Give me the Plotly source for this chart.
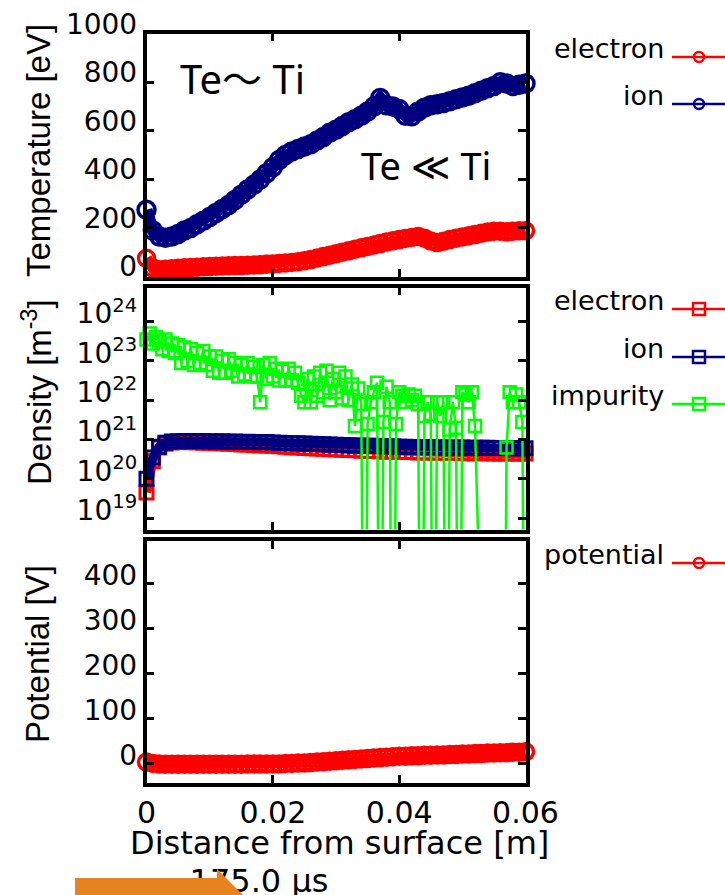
import plotly.graph_objects as go

W, H = 725, 895

# ---------------------------------------------------------------- data
# distance from the surface [m]
distance = [0.000, 0.001, 0.002, 0.003, 0.004, 0.005, 0.006, 0.007, 0.008, 0.009,
            0.010, 0.011, 0.012, 0.013, 0.014, 0.015, 0.016, 0.017, 0.018, 0.019,
            0.020, 0.021, 0.022, 0.023, 0.024, 0.025, 0.026, 0.027, 0.028, 0.029,
            0.030, 0.031, 0.032, 0.033, 0.034, 0.035, 0.036, 0.037, 0.038, 0.039,
            0.040, 0.041, 0.042, 0.043, 0.044, 0.045, 0.046, 0.047, 0.048, 0.049,
            0.050, 0.051, 0.052, 0.053, 0.054, 0.055, 0.056, 0.057, 0.058, 0.059,
            0.060]

distance_fine = [0.0000, 0.0005, 0.0010, 0.0015, 0.0020, 0.0025, 0.0030, 0.0035, 0.0040, 0.0045,
                 0.0050, 0.0055, 0.0060, 0.0065, 0.0070, 0.0075, 0.0080, 0.0085, 0.0090, 0.0095,
                 0.0100, 0.0105, 0.0110, 0.0115, 0.0120, 0.0125, 0.0130, 0.0135, 0.0140, 0.0145,
                 0.0150, 0.0155, 0.0160, 0.0165, 0.0170, 0.0175, 0.0180, 0.0185, 0.0190, 0.0195,
                 0.0200, 0.0205, 0.0210, 0.0215, 0.0220, 0.0225, 0.0230, 0.0235, 0.0240, 0.0245,
                 0.0250, 0.0255, 0.0260, 0.0265, 0.0270, 0.0275, 0.0280, 0.0285, 0.0290, 0.0295,
                 0.0300, 0.0305, 0.0310, 0.0315, 0.0320, 0.0325, 0.0330, 0.0335, 0.0340, 0.0345,
                 0.0350, 0.0355, 0.0360, 0.0365, 0.0370, 0.0375, 0.0380, 0.0385, 0.0390, 0.0395,
                 0.0400, 0.0405, 0.0410, 0.0415, 0.0420, 0.0425, 0.0430, 0.0435, 0.0440, 0.0445,
                 0.0450, 0.0455, 0.0460, 0.0465, 0.0470, 0.0475, 0.0480, 0.0485, 0.0490, 0.0495,
                 0.0500, 0.0505, 0.0510, 0.0515, 0.0520, 0.0525, 0.0530, 0.0535, 0.0540, 0.0545,
                 0.0550, 0.0555, 0.0560, 0.0565, 0.0570, 0.0575, 0.0580, 0.0585, 0.0590, 0.0595,
                 0.0600]

# temperatures [eV]
temp_electron = [75, 35, 28, 30, 32, 34, 36, 37, 38, 40,
                 41, 42, 43, 44, 45, 45, 46, 47, 48, 50,
                 52, 54, 56, 58, 61, 65, 70, 76, 82, 88,
                 94, 100, 106, 112, 118, 124, 130, 136, 142, 147,
                 152, 157, 161, 165, 158, 146, 140, 145, 152, 158,
                 163, 168, 173, 178, 183, 186, 186, 184, 186, 188,
                 188]
temp_ion = [275, 190, 165, 160, 165, 175, 190, 200, 215, 230,
            245, 262, 278, 295, 315, 337, 358, 378, 400, 425,
            450, 480, 500, 515, 525, 535, 545, 560, 575, 592,
            605, 620, 635, 648, 662, 680, 700, 735, 705, 700,
            690, 662, 660, 680, 695, 705, 710, 715, 722, 730,
            737, 745, 755, 765, 775, 785, 800, 795, 785, 790,
            795]

# densities [m^-3]
dens_electron = [4.5e19, 2.8e20, 6.3e20, 7.8e20, 8.4e20, 8.6e20, 8.6e20, 8.5e20, 8.5e20, 8.3e20,
                 8.3e20, 8.1e20, 8.0e20, 7.8e20, 7.8e20, 7.5e20, 7.5e20, 7.3e20, 7.1e20, 7.1e20,
                 6.9e20, 6.7e20, 6.6e20, 6.4e20, 6.3e20, 6.1e20, 6.0e20, 5.9e20, 5.8e20, 5.7e20,
                 5.6e20, 5.5e20, 5.4e20, 5.3e20, 5.2e20, 5.1e20, 5.1e20, 5.0e20, 4.9e20, 4.9e20,
                 4.8e20, 4.8e20, 4.8e20, 4.7e20, 4.7e20, 4.7e20, 4.6e20, 4.6e20, 4.6e20, 4.6e20,
                 4.5e20, 4.5e20, 4.5e20, 4.5e20, 4.5e20, 4.4e20, 4.4e20, 4.4e20, 4.4e20, 4.4e20,
                 4.4e20]
dens_ion = [1.0e20, 3.5e20, 6.6e20, 8.3e20, 8.9e20, 9.1e20, 9.2e20, 9.1e20, 9.2e20, 9.0e20,
            9.1e20, 8.9e20, 9.0e20, 8.8e20, 8.9e20, 8.7e20, 8.8e20, 8.6e20, 8.5e20, 8.6e20,
            8.4e20, 8.3e20, 8.2e20, 8.1e20, 8.0e20, 7.9e20, 7.8e20, 7.7e20, 7.6e20, 7.5e20,
            7.4e20, 7.3e20, 7.2e20, 7.1e20, 7.0e20, 6.9e20, 6.9e20, 6.8e20, 6.7e20, 6.7e20,
            6.6e20, 6.6e20, 6.5e20, 6.5e20, 6.5e20, 6.4e20, 6.4e20, 6.3e20, 6.3e20, 6.3e20,
            6.3e20, 6.2e20, 6.2e20, 6.2e20, 6.2e20, 6.1e20, 6.1e20, 6.1e20, 6.0e20, 6.0e20,
            6.0e20]
# impurity density on the fine grid; 1e10 marks cells with no impurity particles
dens_impurity = [3.5e23, 5.0e23, 2.8e23, 4.0e23, 3.2e23, 2.0e23, 3.5e23, 1.8e23, 2.8e23, 1.6e23,
                 2.5e23, 8.9e22, 2.2e23, 1.0e23, 2.0e23, 7.9e22, 1.6e23, 8.9e22, 1.8e23, 7.9e22,
                 1.3e23, 5.6e22, 1.3e23, 5.0e22, 1.0e23, 5.0e22, 1.1e23, 5.6e22, 8.9e22, 4.0e22,
                 7.9e22, 4.5e22, 8.9e22, 4.0e22, 7.1e22, 4.0e22, 8.9e21, 7.9e22, 3.5e22, 8.9e22,
                 4.0e22, 6.3e22, 3.2e22, 5.6e22, 3.2e22, 6.3e22, 3.2e22, 5.0e22, 2.8e22, 1.3e22,
                 8.9e21, 3.5e22, 8.9e21, 4.0e22, 1.3e22, 5.0e22, 1.6e22, 5.6e22, 1.0e22, 3.5e22,
                 1.6e22, 5.0e22, 1.1e22, 4.0e22, 1.0e22, 2.5e22, 2.2e21, 2.0e22, 7.9e21, 1e10,
                 2.5e21, 8.9e21, 1.6e22, 2.8e22, 1e10, 2.8e21, 2.2e22, 8.9e21, 1e10, 2.5e21,
                 1.6e22, 1.3e22, 8.9e21, 1.4e22, 1.0e22, 1.3e22, 7.9e21, 1e10, 4.0e21, 8.9e21,
                 4.5e21, 1e10, 8.9e21, 4.0e21, 8.9e21, 1e10, 1.8e21, 8.9e21, 2.0e21, 1e10,
                 1.6e22, 1.4e22, 8.9e21, 1.6e22, 2.2e21, 1e10, 1e10, 1e10, 1e10, 1e10,
                 1e10, 1e10, 1e10, 1e10, 6.3e20, 1.6e22, 8.9e21, 1.4e22, 8.9e21, 2.8e21,
                 1e10]

# electrostatic potential [V]
potential = [2, -1, -2, -3, -3, -3, -3, -3, -3, -3,
             -3, -3, -3, -3, -3, -3, -2, -2, -2, -2,
             -2, -2, -1, -1, 0, 0, 1, 2, 3, 4,
             5, 6, 7, 8, 9, 10, 11, 12, 13, 14,
             15, 15, 16, 16, 17, 17, 18, 18, 19, 19,
             20, 20, 21, 21, 22, 22, 23, 23, 24, 24,
             25]

x_ticks = [0, 0.02, 0.04, 0.06]
x_ticktext = ["0", "0.02", "0.04", "0.06"]
temp_ticks = [0, 200, 400, 600, 800, 1000]
dens_ticks = [1e19, 1e20, 1e21, 1e22, 1e23, 1e24]
dens_ticktext = ["10<sup>19</sup>", "10<sup>20</sup>", "10<sup>21</sup>",
                 "10<sup>22</sup>", "10<sup>23</sup>", "10<sup>24</sup>"]
pot_ticks = [0, 100, 200, 300, 400]

# ---------------------------------------------------------------- styles
RED = "#ff0000"
NAVY = "#00007f"
GREEN = "#00ff00"
SANS = "DejaVu Sans"
TICK_FONT = dict(family=SANS, size=28, color="black")


def ydom(top_px, bottom_px):
    return [1 - bottom_px / H, 1 - top_px / H]


X_DOM = [146.5 / W, 525.5 / W]

fig = go.Figure()


def curve(x, y, color, symbol, axes, size=16, mlw=3.5, lw=11):
    # densely sampled profile: heavy connecting line under open markers
    fig.add_trace(go.Scatter(
        x=x, y=y, mode="lines+markers", xaxis=axes[0], yaxis=axes[1],
        line=dict(color=color, width=lw),
        marker=dict(symbol=symbol, size=size, color=color,
                    line=dict(color=color, width=mlw)),
        cliponaxis=False, showlegend=False, hoverinfo="skip"))


# temperature panel
curve(distance, temp_electron, RED, "circle-open", ("x", "y"))
curve(distance, temp_ion, NAVY, "circle-open", ("x", "y"), size=17, lw=12)

# density panel
curve(distance, dens_electron, RED, "square-open", ("x2", "y2"), size=13, mlw=3, lw=9)
curve(distance, dens_ion, NAVY, "square-open", ("x2", "y2"), size=13, mlw=3, lw=9)
# impurity: connecting line through every cell (empty cells drop off the axis),
# markers only where particles are present
fig.add_trace(go.Scatter(
    x=distance_fine, y=dens_impurity, mode="lines", xaxis="x2", yaxis="y2",
    line=dict(color=GREEN, width=2.5), cliponaxis=True,
    showlegend=False, hoverinfo="skip"))
imp_x = [d for d, v in zip(distance_fine, dens_impurity) if v > 1e15]
imp_y = [v for v in dens_impurity if v > 1e15]
fig.add_trace(go.Scatter(
    x=imp_x, y=imp_y, mode="markers", xaxis="x2", yaxis="y2",
    marker=dict(symbol="square-open", size=12, color=GREEN,
                line=dict(color=GREEN, width=2.5)),
    cliponaxis=False, showlegend=False, hoverinfo="skip"))

# potential panel
curve(distance, potential, RED, "circle-open", ("x3", "y3"))

# ---------------------------------------------------------------- overlay (pixel coordinates)
# legend keys: label, colour, marker symbol, y of key line
legend_rows = [
    ("electron", RED, "circle-open", 57),
    ("ion", NAVY, "circle-open", 104),
    ("electron", RED, "square-open", 309),
    ("ion", NAVY, "square-open", 357),
    ("impurity", GREEN, "square-open", 404),
    ("potential", RED, "circle-open", 563),
]
annotations = []
for label, color, symbol, ly in legend_rows:
    fig.add_trace(go.Scatter(
        x=[672, 740], y=[ly, ly], mode="lines", xaxis="x4", yaxis="y4",
        line=dict(color=color, width=2.5), showlegend=False, hoverinfo="skip"))
    fig.add_trace(go.Scatter(
        x=[699], y=[ly], mode="markers", xaxis="x4", yaxis="y4",
        marker=dict(symbol=symbol, size=10 if symbol.startswith("circle") else 12,
                    color=color, line=dict(color=color, width=2.5)),
        showlegend=False, hoverinfo="skip"))
    annotations.append(dict(
        x=666, y=ly - 9, xref="x4", yref="y4", text=label, showarrow=False,
        xanchor="right", yanchor="middle", font=dict(family=SANS, size=27, color="black")))

# time stamp, partly hidden under the arrow
fig.add_trace(go.Scatter(
    x=[259], y=[884], mode="text", text=["175.0 \u03bcs"], xaxis="x4", yaxis="y4",
    textfont=dict(family=SANS, size=32, color="black"), textposition="middle center",
    showlegend=False, hoverinfo="skip"))

# axis titles and panel notes
annotations += [
    dict(x=38, y=151, text="Temperature [eV]", textangle=-90,
         font=dict(family="Liberation Sans", size=33, color="black")),
    dict(x=37, y=392, text="Density [m<sup>-3</sup>]", textangle=-90,
         font=dict(family="Liberation Sans", size=33, color="black")),
    dict(x=37, y=654, text="Potential [V]", textangle=-90,
         font=dict(family="Liberation Sans", size=33, color="black")),
    dict(x=339, y=843, text="Distance from surface [m]",
         font=dict(family=SANS, size=32, color="black")),
    dict(x=242, y=78, text="Te\u301c Ti",
         font=dict(family="Noto Sans, Noto Sans CJK JP", size=40, color="black")),
    dict(x=426, y=165, text="Te \u226a Ti",
         font=dict(family="Noto Sans, DejaVu Sans", size=38, color="black")),
]
for a in annotations:
    a.setdefault("xref", "x4")
    a.setdefault("yref", "y4")
    a.setdefault("showarrow", False)

arrow = dict(type="path", xref="x4", yref="y4", layer="above",
             path="M75,878 L217,878 L217,869 L244,896 L217,923 L217,914 L75,914 Z",
             fillcolor="#e6831f", line=dict(width=0))

# ---------------------------------------------------------------- axes
frame = dict(showline=True, linewidth=3.5, linecolor="black", mirror="allticks",
             ticks="inside", ticklen=8, tickwidth=3, tickcolor="black",
             showgrid=False, zeroline=False, automargin=False)

xbase = dict(frame, domain=X_DOM, range=[0, 0.06], tickvals=x_ticks, ticktext=x_ticktext)

fig.update_layout(
    template="none",
    width=W, height=H, autosize=False,
    margin=dict(l=0, r=0, t=0, b=0, pad=0),
    paper_bgcolor="white", plot_bgcolor="rgba(0,0,0,0)",
    showlegend=False,
    xaxis=dict(xbase, anchor="y", showticklabels=False),
    xaxis2=dict(xbase, anchor="y2", showticklabels=False),
    xaxis3=dict(xbase, anchor="y3", showticklabels=True,
                tickfont=dict(family=SANS, size=30, color="black"), ticklabelstandoff=0),
    yaxis=dict(frame, anchor="x", domain=ydom(33.5, 276.5), range=[0, 1001],
               tickvals=temp_ticks, tickfont=TICK_FONT, ticklabelshift=-10,
               ticklabelstandoff=0),
    yaxis2=dict(frame, anchor="x2", domain=ydom(287.5, 529.5), type="log",
                range=[18.71, 24.87], tickvals=dens_ticks, ticktext=dens_ticktext,
                tickfont=TICK_FONT, ticklabelshift=-8, ticklabelstandoff=0),
    yaxis3=dict(frame, anchor="x3", domain=ydom(541, 783), range=[-44.5, 494],
                tickvals=pot_ticks, tickfont=TICK_FONT, ticklabelshift=-8,
                ticklabelstandoff=0),
    xaxis4=dict(domain=[0, 1], range=[0, W], visible=False, anchor="y4",
                automargin=False, fixedrange=True),
    yaxis4=dict(domain=[0, 1], range=[H, 0], visible=False, anchor="x4",
                automargin=False, fixedrange=True),
    annotations=annotations,
    shapes=[arrow],
)

fig.write_html("out.html")
